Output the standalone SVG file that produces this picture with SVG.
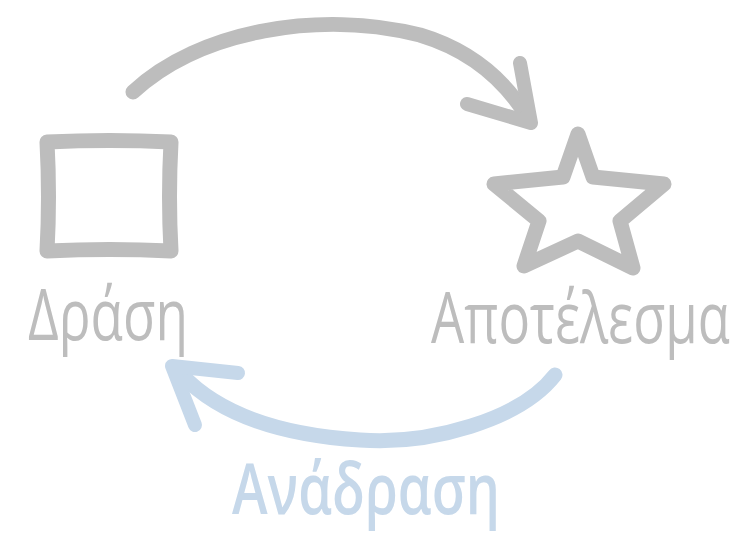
<svg xmlns="http://www.w3.org/2000/svg" width="752" height="548" viewBox="0 0 752 548">
<style>
.g{fill:none;stroke:#bdbdbd;stroke-linecap:round;stroke-linejoin:round}
.b{fill:none;stroke:#c6d8ea;stroke-linecap:round;stroke-linejoin:round}
.lbl{font-family:"Open Sans","DejaVu Sans",sans-serif;font-weight:400;fill:#bdbdbd}
.fb{font-family:"Open Sans","DejaVu Sans",sans-serif;font-weight:600;fill:#c6d8ea}
</style>
<rect width="752" height="548" fill="#ffffff"/>
<g id="node-action">
<path class="g" stroke-width="15" d="M47,142 Q110,139 171,142 Q168,197 171,251 Q110,248 47,251 Q50,197 47,142 Z"/>
<text class="lbl" x="28" y="340" font-size="72" textLength="160" lengthAdjust="spacingAndGlyphs">Δράση</text>
</g>
<g id="node-result">
<path class="g" stroke-width="15" d="M578,134 L593,177 L664,184 L620,221 L633,268 L578,241 L524,266 L539,221 L494,184 L563,177 Z"/>
<text class="lbl" transform="translate(431,343) scale(0.73,1)" x="0" y="0" font-size="72">Αποτέλεσμα</text>
</g>
<g id="connectors">
<path class="g" stroke-width="15" d="M133,92 C200,30 320,10 420,35 C470,50 505,80 528,118"/>
<path class="g" stroke-width="14" d="M520,63 L531,123 L467,104"/>
<path class="b" stroke-width="15" d="M555,375 C520,420 430,445 360,440 C280,435 220,415 182,375"/>
<path class="b" stroke-width="14" d="M238,373 L172,366 L195,425"/>
</g>
<g id="label-feedback">
<text class="fb" x="232" y="514" font-size="70" textLength="268" lengthAdjust="spacingAndGlyphs">Ανάδραση</text>
</g>
</svg>
